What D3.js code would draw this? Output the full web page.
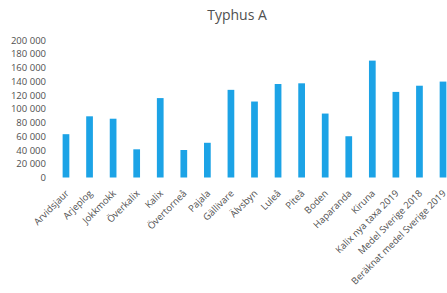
<!DOCTYPE html>
<html>
<head>
<meta charset="utf-8">
<script src="https://cdn.jsdelivr.net/npm/d3@7"></script>
<style>
  body { margin: 0; background: #fff; }
  text { font-family: "Open Sans", sans-serif; }
</style>
</head>
<body>
<div id="chart"></div>
<script>
// Typhus A bar chart

const categories = [
    "Arvidsjaur", "Arjeplog", "Jokkmokk", "Överkalix", "Kalix", "Övertorneå",
    "Pajala", "Gällivare", "Älvsbyn", "Luleå", "Piteå", "Boden", "Haparanda",
    "Kiruna", "Kalix nya taxa 2019", "Medel Sverige 2018", "Beräknat medel Sverige 2019"
];
const values = [
    63000, 89000, 85500, 41000, 115500, 40000,
    50500, 127500, 110500, 136000, 137000, 93000, 60000,
    170000, 124500, 133500, 139500
];
const yTicks = [0, 20000, 40000, 60000, 80000, 100000, 120000, 140000, 160000, 180000, 200000];

const width = 447, height = 293;
const textColor = "#505050";
const barColor = "#1ca3e6";

const svg = d3.select("#chart")
    .append("svg")
    .attr("width", width)
    .attr("height", height);

// Title
svg.append("text")
    .attr("x", 237)
    .attr("y", 20)
    .attr("text-anchor", "middle")
    .attr("fill", textColor)
    .style("font-size", "14px")
    .text("Typhus A");

const x = d3.scaleBand()
    .domain(categories)
    .range([54.2, 454.8])
    .padding(0);

const y = d3.scaleLinear()
    .domain([0, 200000])
    .range([177.5, 40]);

const barW = x.bandwidth() * 0.285;

// Bars
svg.selectAll(".bar")
    .data(categories)
    .enter()
    .append("rect")
    .attr("class", "bar")
    .attr("x", (d, i) => x(d) + x.bandwidth() / 2 - barW / 2)
    .attr("y", (d, i) => y(values[i]))
    .attr("width", barW)
    .attr("height", (d, i) => y(0) - y(values[i]))
    .attr("fill", barColor);

// Y axis (labels only)
const fmt = v => d3.format(",")(v).replace(/,/g, " ");
const yAxis = svg.append("g")
    .attr("transform", "translate(46,0)")
    .call(d3.axisLeft(y).tickValues(yTicks).tickFormat(fmt).tickSize(0).tickPadding(0));
yAxis.select(".domain").remove();
yAxis.selectAll("text")
    .attr("fill", textColor)
    .style("font-family", "'Open Sans', sans-serif")
    .style("font-size", "9.5px");

// X axis (rotated labels only)
const xAxis = svg.append("g")
    .attr("transform", "translate(0,177.5)")
    .call(d3.axisBottom(x).tickSize(0).tickPadding(0));
xAxis.select(".domain").remove();
xAxis.selectAll("text")
    .attr("fill", textColor)
    .style("font-family", "'Open Sans', sans-serif")
    .style("font-size", "9.5px")
    .attr("text-anchor", "end")
    .attr("dy", null)
    .attr("y", 0)
    .attr("transform", "translate(3.5,16.5) rotate(-45)");
</script>
</body>
</html>
